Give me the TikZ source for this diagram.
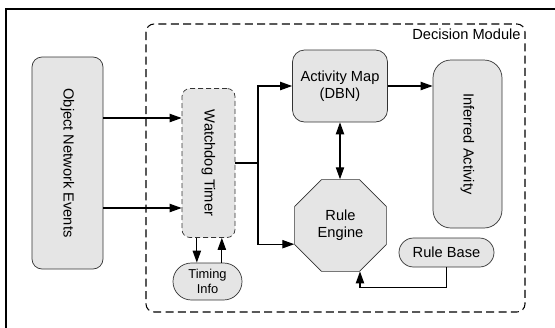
\documentclass[tikz,border=0pt]{standalone}
\usepackage{fontspec}
\setmainfont{Liberation Sans}
\usetikzlibrary{arrows.meta,shapes.geometric}

\begin{document}
\begin{tikzpicture}[x=0.3mm, y=-0.3mm,
    >={Triangle[length=3.6mm, width=2.5mm]},
    box/.style={draw=black!80, fill=black!10, line width=0.6pt, align=center,
                inner sep=0pt, font=\fontsize{12.5}{14.5}\selectfont},
    arr/.style={line width=1pt, ->},
    line/.style={line width=1pt}]

    \useasboundingbox (0,0) rectangle (555,327);
    \clip (0,0) rectangle (555,327);

    % frame and module border
    \draw[line width=1.6pt] (6,9) rectangle (565,340);
    \draw[line width=0.9pt, dash pattern=on 2.4mm off 1.3mm, rounded corners=2.4mm]
        (146,24) rectangle (525,312);
    \node[anchor=north east, inner sep=1pt, font=\fontsize{12.5}{14.5}\selectfont]
        (dm) at (522,27) {Decision Module};

    \node[box, rounded corners=3mm, minimum width=21.3mm, minimum height=63.6mm]
        (one) at (67.5,163) {\rotatebox{-90}{Object Network Events}};
    \node[box, rounded corners=2.4mm, dash pattern=on 1.5mm off 0.9mm,
          minimum width=15.9mm, minimum height=44.7mm]
        (wd) at (208.5,163) {\rotatebox{-90}{Watchdog Timer}};
    \node[box, rounded corners=5.5mm, minimum width=20.7mm, minimum height=11.1mm,
          font=\fontsize{11}{12.5}\selectfont]
        (ti) at (207.5,281.5) {Timing\\Info};
    \node[box, rounded corners=3.6mm, minimum width=28.5mm, minimum height=21.6mm]
        (am) at (340,86) {Activity Map\\(DBN)};
    \node[box, rounded corners=5.4mm, minimum width=20.7mm, minimum height=50.4mm]
        (ia) at (467.5,144) {\rotatebox{-90}{Inferred Activity}};
    \node[box, regular polygon, regular polygon sides=8, minimum size=29.8mm]
        (re) at (340.5,225.5) {Rule\\Engine};
    \node[box, rounded corners=4.35mm, minimum width=28.5mm, minimum height=8.7mm]
        (rb) at (446.5,252.5) {Rule Base};

    \coordinate (split) at (258,163);

    \draw[arr] ([yshift=13.5mm]one.east) -- ([yshift=13.5mm]wd.west);
    \draw[arr] ([yshift=-13.5mm]one.east) -- ([yshift=-13.5mm]wd.west);

    \draw[arr] ([xshift=-3.5mm]wd.south) -- ([xshift=-3.5mm]wd.south |- ti.north);
    \draw[arr] ([xshift=4mm]wd.south |- ti.north) -- ([xshift=4mm]wd.south);

    \draw[line] (wd.east) -- (split);
    \draw[arr] (split) |- (am.west);
    \draw[arr] (split) |- (re.202.5);

    \draw[arr] (am.east) -- (am.east -| ia.west);
    \draw[line, <->] (am.south) -- (am.south |- re.north);
    \draw[arr] (rb.south) -- ++(0,20) -| (re.-67);
\end{tikzpicture}
\end{document}
